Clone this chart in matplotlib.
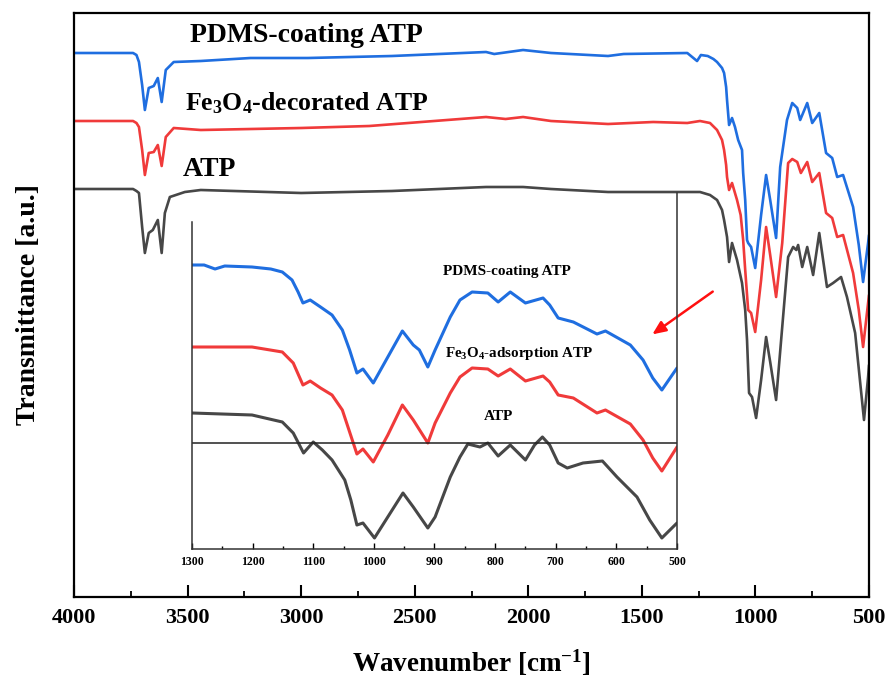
import matplotlib
matplotlib.use("Agg")
import matplotlib.pyplot as plt
from matplotlib.ticker import MultipleLocator

plt.rcParams['font.family'] = ['Liberation Serif', 'DejaVu Serif']
plt.rcParams['font.weight'] = 'bold'
plt.rcParams['mathtext.fontset'] = 'custom'
plt.rcParams['mathtext.rm'] = 'Liberation Serif:bold'
plt.rcParams['mathtext.it'] = 'Liberation Serif:bold'
plt.rcParams['mathtext.bf'] = 'Liberation Serif:bold'
plt.rcParams['mathtext.default'] = 'rm'

# ---------------- main spectra (wavenumber, transmittance a.u.) ----------------
pdms_wn = [4000, 3800, 3740, 3725, 3714, 3700, 3688, 3671, 3649, 3631, 3614, 3596,
           3561, 3442, 3223, 2970, 2600, 2186, 2150, 2023, 1900, 1649, 1580, 1300,
           1257, 1240, 1210, 1185, 1169, 1147, 1138, 1129, 1125, 1116, 1103, 1090,
           1076, 1059, 1054, 1045, 1037, 1032, 1019, 1001, 975, 953, 935, 909, 891,
           861, 838, 816, 803, 772, 750, 719, 689, 662, 640, 614, 570, 545, 526,
           504, 500]
pdms_t = [544, 544, 544, 542, 535, 512, 487, 509, 511, 519, 495, 527,
          535, 536, 539, 539, 541, 545, 543, 547, 544, 541, 543, 544,
          536, 542, 541, 538, 535, 529, 524, 510, 497, 472, 479, 470,
          457, 447, 424, 397, 357, 354, 350, 329, 382, 422, 397, 359, 430,
          477, 494, 489, 477, 494, 474, 484, 444, 439, 420, 422, 390, 352, 315,
          354, 362]

fe_wn = [4000, 3740, 3725, 3714, 3700, 3688, 3671, 3649, 3631, 3614, 3596, 3561,
         3442, 3000, 2700, 2186, 2100, 2023, 1900, 1649, 1450, 1300, 1244, 1200,
         1169, 1147, 1138, 1129, 1125, 1116, 1103, 1081, 1065, 1054, 1045, 1032,
         1019, 1001, 975, 953, 935, 909, 882, 856, 838, 816, 800, 772, 750, 719,
         689, 662, 640, 614, 570, 545, 526, 504, 500]
fe_t = [476, 476, 474, 470, 447, 422, 444, 445, 452, 431, 460, 469,
        467, 469, 471, 480, 478, 480, 476, 473, 475, 474, 476, 474,
        467, 457, 447, 432, 420, 407, 414, 397, 382, 357, 327, 287,
        284, 265, 317, 370, 342, 300, 354, 434, 438, 435, 424, 435, 415, 424,
        384, 379, 360, 362, 324, 287, 250, 294, 302]

atp_wn = [4000, 3740, 3725, 3714, 3700, 3688, 3671, 3653, 3631, 3614, 3600, 3578,
          3512, 3442, 3000, 2600, 2186, 2023, 1900, 1649, 1300, 1244, 1200, 1169,
          1147, 1138, 1125, 1116, 1103, 1081, 1059, 1045, 1037, 1028, 1015, 997,
          975, 953, 935, 909, 882, 856, 834, 820, 812, 794, 772, 746, 719, 685,
          658, 623, 597, 561, 540, 522, 504, 500]
atp_t = [408, 408, 406, 404, 370, 344, 364, 367, 377, 344, 384, 400,
         405, 407, 404, 406, 410, 410, 408, 405, 405, 405, 402, 397,
         387, 377, 360, 335, 354, 337, 314, 287, 257, 204, 200, 179,
         217, 260, 235, 197, 270, 340, 350, 347, 352, 330, 350, 322, 364, 310,
         314, 320, 300, 264, 217, 177, 220, 232]

# ---------------- inset spectra (1300-500 cm-1) ----------------
in_pdms_wn = [1300, 1280, 1262, 1246, 1201, 1170, 1151, 1135, 1125, 1117, 1105, 1088,
              1069, 1052, 1040, 1028, 1018, 1001, 977, 953, 935, 925, 911, 899, 874,
              858, 838, 812, 795, 775, 750, 721, 710, 696, 671, 632, 618, 577, 556,
              540, 525, 500]
in_pdms_t = [284, 284, 280, 283, 282, 280, 277, 269, 257, 246, 249, 242,
             234, 219, 199, 176, 180, 166, 192, 218, 204, 199, 182, 199, 232,
             249, 257, 256, 247, 257, 246, 251, 244, 231, 227, 215, 218, 204, 189,
             171, 159, 181]

in_fe_wn = [1300, 1201, 1151, 1133, 1117, 1105, 1088, 1069, 1052, 1040, 1028, 1018,
            1001, 977, 953, 935, 911, 899, 874, 858, 838, 812, 795, 775, 750, 721,
            710, 696, 671, 632, 618, 577, 556, 540, 525, 500]
in_fe_t = [202, 202, 197, 186, 164, 168, 161, 154, 139, 117, 95, 100,
           87, 114, 144, 129, 106, 126, 156, 172, 181, 180, 173, 180, 168, 173,
           167, 154, 151, 136, 139, 125, 109, 91, 78, 102]

in_atp_wn = [1300, 1201, 1151, 1133, 1116, 1100, 1085, 1069, 1048, 1038, 1028, 1018,
             999, 975, 952, 935, 911, 899, 874, 858, 845, 825, 812, 795, 775, 750,
             735, 722, 710, 696, 681, 655, 623, 599, 566, 545, 525, 500]
in_atp_t = [136, 134, 127, 116, 96, 107, 99, 89, 69, 49, 24, 26,
            11, 34, 56, 42, 21, 32, 72, 92, 105, 102, 106, 93, 104, 89,
            104, 112, 104, 86, 81, 86, 88, 72, 52, 29, 11, 26]

main_labels = ['PDMS-coating ATP', 'Fe$_3$O$_4$-decorated ATP', 'ATP']
inset_labels = ['PDMS-coating ATP', 'Fe$_3$O$_4$-adsorption ATP', 'ATP']
main_ticks = [4000, 3500, 3000, 2500, 2000, 1500, 1000, 500]
inset_ticks = [1300, 1200, 1100, 1000, 900, 800, 700, 600, 500]

c_blue = '#1f6ee0'
c_red = '#f03a3a'
c_black = '#474747'

W, H = 887, 679
fig = plt.figure(figsize=(W / 100, H / 100), dpi=100)
ax = fig.add_axes([74 / W, 1 - 597 / H, (869 - 74) / W, (597 - 13) / H])

for xs, ys, c in [(pdms_wn, pdms_t, c_blue), (fe_wn, fe_t, c_red), (atp_wn, atp_t, c_black)]:
    ax.plot(xs, ys, color=c, lw=1.9, solid_joinstyle='round', solid_capstyle='round')

ax.set_xlim(4000, 500)
ax.set_ylim(0, 584)
ax.set_xticks(main_ticks)
ax.set_xticklabels([str(t) for t in main_ticks])
ax.xaxis.set_minor_locator(MultipleLocator(250))
ax.set_yticks([])
ax.tick_params(axis='x', which='major', direction='in', length=8.5, width=1.5,
               labelsize=16, pad=8)
ax.tick_params(axis='x', which='minor', direction='in', length=4.3, width=1.3)
for lab in ax.get_xticklabels():
    lab.set_fontweight('bold')
for s in ax.spines.values():
    s.set_linewidth(1.6)

ax.set_xlabel('Wavenumber [cm$^{-1}$]', fontsize=19.5, fontweight='bold', labelpad=14)
ax.set_ylabel('Transmittance [a.u.]', fontsize=20, fontweight='bold', labelpad=24)

ax.text(3489, 562, main_labels[0], fontsize=20, fontweight='bold', va='center', ha='left')
ax.text(3511, 494, main_labels[1], fontsize=18.5, fontweight='bold', va='center', ha='left')
ax.text(3520, 428, main_labels[2], fontsize=20, fontweight='bold', va='center', ha='left')

ax.annotate('', xy=(1464, 261), xytext=(1178, 307),
            arrowprops=dict(arrowstyle='-|>,head_length=0.8,head_width=0.35',
                            color='#ff1010', lw=1.8))

# ---------------- inset ----------------
ins = fig.add_axes([192 / W, 1 - 549 / H, (677 - 192) / W, (549 - 193) / H])
ins.patch.set_alpha(0)
for xs, ys, c in [(in_pdms_wn, in_pdms_t, c_blue), (in_fe_wn, in_fe_t, c_red),
                  (in_atp_wn, in_atp_t, c_black)]:
    ins.plot(xs, ys, color=c, lw=2.2, solid_joinstyle='round', solid_capstyle='round')
ins.axhline(106, color='#222222', lw=1.1)
ins.set_xlim(1300, 500)
ins.set_ylim(0, 356)
ins.spines['top'].set_visible(False)
ins.spines['left'].set_bounds(0, 327)
for s in ins.spines.values():
    s.set_linewidth(1.1)
    s.set_color('#333333')
ins.set_xticks(inset_ticks)
ins.set_xticklabels([str(t) for t in inset_ticks])
ins.xaxis.set_minor_locator(MultipleLocator(50))
ins.set_yticks([])
ins.tick_params(axis='x', which='major', direction='in', length=4.3, width=1.0,
                labelsize=8.5, pad=5)
ins.tick_params(axis='x', which='minor', direction='in', length=2.2, width=1.0)
for lab in ins.get_xticklabels():
    lab.set_fontweight('bold')

ins.text(780, 277, inset_labels[0], fontsize=11, fontweight='bold', ha='center', va='center')
ins.text(760, 196, inset_labels[1], fontsize=10.8, fontweight='bold', ha='center', va='center')
ins.text(795, 132, inset_labels[2], fontsize=11, fontweight='bold', ha='center', va='center')

fig.savefig('out.png', dpi=100)
